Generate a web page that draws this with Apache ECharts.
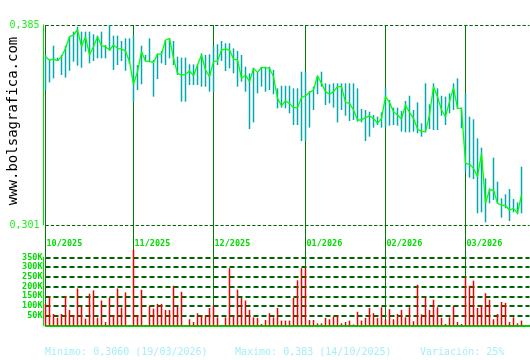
<!DOCTYPE html>
<html>
<head>
<meta charset="utf-8">
<script src="https://cdn.jsdelivr.net/npm/echarts@6/dist/echarts.min.js"></script>
<style>html,body{margin:0;padding:0;background:#fff}#c{width:530px;height:360px}</style>
</head>
<body>
<div id="c"></div>
<script>
// ---- data ----
const monthLabels = ['10/2025','11/2025','12/2025','01/2026','02/2026','03/2026'];
const monthStarts = [0, 22, 42, 65, 85, 105];
const priceTicks = [0.301, 0.385];
const volumeTicksK = [50, 100, 150, 200, 250, 300, 350];

const high = [0.3724,0.3705,0.3763,0.3713,0.3724,0.3763,0.3801,0.3822,0.3843,0.3822,
0.3822,0.3822,0.3811,0.3805,0.3822,0.3766,0.3850,0.3805,0.3805,0.3783,
0.3794,0.3794,0.3808,0.3682,0.3763,0.3724,0.3794,0.3703,0.3730,0.3741,
0.3787,0.3794,0.3783,0.3717,0.3713,0.3713,0.3685,0.3685,0.3685,0.3731,
0.3724,0.3727,0.3763,0.3769,0.3783,0.3773,0.3773,0.3752,0.3741,0.3724,
0.3675,0.3647,0.3671,0.3652,0.3675,0.3675,0.3675,0.3661,0.3584,0.3595,
0.3595,0.3595,0.3584,0.3584,0.3654,0.3654,0.3573,0.3591,0.3637,0.3654,
0.3605,0.3601,0.3605,0.3605,0.3605,0.3605,0.3605,0.3605,0.3584,0.3497,
0.3493,0.3486,0.3472,0.3465,0.3483,0.3584,0.3535,0.3503,0.3503,0.3489,
0.3531,0.3553,0.3493,0.3525,0.3437,0.3605,0.3517,0.3605,0.3584,0.3553,
0.3549,0.3563,0.3605,0.3626,0.3503,0.3563,0.3465,0.3454,0.3374,0.3335,
0.3206,0.3164,0.3293,0.3192,0.3122,0.3139,0.3161,0.3119,0.3105,0.3255];

const low = [0.3577,0.3609,0.3626,0.3699,0.3640,0.3629,0.3658,0.3696,0.3679,0.3671,
0.3738,0.3689,0.3699,0.3710,0.3710,0.3710,0.3742,0.3661,0.3682,0.3699,
0.3658,0.3689,0.3528,0.3577,0.3601,0.3696,0.3694,0.3549,0.3623,0.3689,
0.3682,0.3710,0.3682,0.3640,0.3528,0.3528,0.3598,0.3598,0.3598,0.3591,
0.3591,0.3570,0.3570,0.3682,0.3699,0.3657,0.3668,0.3647,0.3591,0.3612,
0.3570,0.3413,0.3441,0.3563,0.3591,0.3570,0.3577,0.3559,0.3500,0.3503,
0.3500,0.3479,0.3430,0.3430,0.3363,0.3363,0.3419,0.3493,0.3559,0.3591,
0.3514,0.3521,0.3503,0.3441,0.3493,0.3469,0.3447,0.3451,0.3444,0.3441,
0.3363,0.3381,0.3419,0.3430,0.3419,0.3419,0.3427,0.3430,0.3427,0.3402,
0.3399,0.3399,0.3402,0.3395,0.3381,0.3399,0.3413,0.3409,0.3409,0.3469,
0.3430,0.3479,0.3493,0.3497,0.3416,0.3234,0.3209,0.3203,0.3059,0.3063,
0.3021,0.3101,0.3115,0.3098,0.3041,0.3080,0.3027,0.3063,0.3055,0.3059];

const close = [0.3717,0.3702,0.3707,0.3700,0.3717,0.3752,0.3801,0.3808,0.3830,0.3759,
0.3801,0.3724,0.3759,0.3801,0.3763,0.3759,0.3745,0.3766,0.3752,0.3749,
0.3741,0.3696,0.3601,0.3654,0.3738,0.3699,0.3696,0.3693,0.3728,0.3728,
0.3787,0.3794,0.3710,0.3647,0.3640,0.3643,0.3657,0.3637,0.3682,0.3724,
0.3661,0.3633,0.3696,0.3699,0.3745,0.3749,0.3745,0.3707,0.3703,0.3626,
0.3640,0.3612,0.3668,0.3651,0.3671,0.3671,0.3668,0.3633,0.3542,0.3511,
0.3531,0.3521,0.3503,0.3503,0.3545,0.3553,0.3567,0.3577,0.3637,0.3605,
0.3570,0.3559,0.3570,0.3591,0.3591,0.3525,0.3521,0.3493,0.3451,0.3451,
0.3461,0.3468,0.3458,0.3437,0.3458,0.3549,0.3525,0.3486,0.3472,0.3455,
0.3514,0.3483,0.3458,0.3413,0.3402,0.3402,0.3472,0.3591,0.3549,0.3493,
0.3465,0.3528,0.3587,0.3500,0.3500,0.3269,0.3265,0.3248,0.3213,0.3311,
0.3101,0.3157,0.3157,0.3101,0.3094,0.3091,0.3073,0.3080,0.3060,0.3136];

// volume in thousands
const volumeK = [111,149,59,40,59,152,80,53,190,97,
35,163,180,40,128,18,144,54,190,92,
170,3,390,54,183,3,101,87,111,111,
80,80,204,96,173,2,32,18,63,49,
53,90,104,42,2,42,294,49,184,142,
128,80,42,39,8,28,63,42,90,25,
25,25,142,232,294,294,28,28,11,11,
39,32,46,49,11,18,25,5,70,25,
39,90,63,39,94,32,84,32,59,80,
42,94,22,209,57,146,80,132,94,39,
8,42,101,18,8,247,204,230,90,101,
166,132,32,59,121,116,18,42,11,25];

const footerTexts = ['Minimo: 0,3060 (19/03/2026)', 'Maximo: 0,383 (14/10/2025)', 'Variación: 25%'];
const siteText = 'www.bolsagrafica.com';

// ---- build options ----
const nSlots = 122; // trading-day slots on the time axis (120 used + padding)
const categories = [];
for (let i = 0; i < nSlots; i++) {
  const k = monthStarts.indexOf(i);
  categories.push(k >= 0 ? monthLabels[k] : '');
}
const isMonth = (idx) => monthStarts.indexOf(idx) >= 0;
const hlData = high.map((h, i) => [i, h, low[i]]);

const MONO = 'DejaVu Sans Mono';
const dark = '#007a00';

const chart = echarts.init(document.getElementById('c'), null, {renderer: 'canvas'});
chart.setOption({
  animation: false,
  backgroundColor: '#ffffff',
  title: [
    {text: footerTexts[0], left: 45, top: 347, padding: 0, textStyle: {fontFamily: MONO, fontSize: 10, fontWeight: 'normal', color: '#a6eef8'}},
    {text: footerTexts[1], left: 235, top: 347, padding: 0, textStyle: {fontFamily: MONO, fontSize: 10, fontWeight: 'normal', color: '#a6eef8'}},
    {text: footerTexts[2], left: 420, top: 347, padding: 0, textStyle: {fontFamily: MONO, fontSize: 10, fontWeight: 'normal', color: '#a6eef8'}}
  ],
  graphic: [{
    type: 'text', x: 13, y: 121, rotation: Math.PI / 2,
    style: {text: siteText, font: '14px "DejaVu Sans Mono"', fill: '#000', textAlign: 'center', textVerticalAlign: 'middle'}
  }],
  grid: [
    {left: 45.5, right: 0.5, top: 25, height: 200},
    {left: 45.5, right: 0.5, top: 257.3, height: 68.2}
  ],
  xAxis: [
    {
      type: 'category', gridIndex: 0, data: categories, boundaryGap: false,
      axisLine: {show: false},
      axisTick: {show: true, interval: isMonth, length: 32, lineStyle: {color: dark, width: 1}},
      axisLabel: {show: true, interval: (i, v) => v !== '', align: 'left', verticalAlign: 'top', margin: 14.5, padding: [0,0,0,1],
        fontFamily: MONO, fontSize: 8.5, fontWeight: 'bold', color: '#00dd00'},
      splitLine: {show: true, interval: isMonth, lineStyle: {color: dark, width: 1}}
    },
    {
      type: 'category', gridIndex: 1, data: categories, boundaryGap: false,
      axisLine: {show: true, lineStyle: {color: '#00cc00', width: 2}},
      axisTick: {show: false},
      axisLabel: {show: false},
      splitLine: {show: true, interval: isMonth, lineStyle: {color: dark, width: 1}}
    }
  ],
  yAxis: [
    {
      type: 'value', gridIndex: 0, min: priceTicks[0], max: priceTicks[1], interval: priceTicks[1] - priceTicks[0],
      offset: 2,
      axisLine: {show: true, lineStyle: {color: '#00dd00', width: 1}},
      axisTick: {show: false},
      axisLabel: {margin: 4, fontFamily: MONO, fontSize: 10, color: '#22ee22',
        formatter: (v) => v.toFixed(3).replace('.', ',')},
      splitLine: {show: true, lineStyle: {color: '#006400', width: 1, type: [3.3, 2]}}
    },
    {
      type: 'value', gridIndex: 1, min: 0, max: volumeTicksK[volumeTicksK.length - 1], interval: volumeTicksK[1] - volumeTicksK[0],
      offset: 2,
      axisLine: {show: true, lineStyle: {color: '#00dd00', width: 1}},
      axisTick: {show: false},
      axisLabel: {margin: 1, fontFamily: MONO, fontSize: 8.5, fontWeight: 'bold', color: '#00dd00',
        formatter: (v) => v > 0 ? v + 'K' : ''},
      splitLine: {show: true, lineStyle: {color: '#006400', width: 2, type: [5, 3]}}
    }
  ],
  series: [
    {
      type: 'custom', xAxisIndex: 0, yAxisIndex: 0, data: hlData, z: 3,
      renderItem: function (params, api) {
        const p1 = api.coord([api.value(0), api.value(1)]);
        const p2 = api.coord([api.value(0), api.value(2)]);
        return {type: 'rect', shape: {x: p1[0] - 0.75, y: p1[1], width: 1.5, height: p2[1] - p1[1]},
          style: {fill: '#00a8b0'}};
      }
    },
    {
      type: 'line', xAxisIndex: 0, yAxisIndex: 0, data: close, showSymbol: false, z: 4,
      lineStyle: {color: '#00ff00', width: 1.3}
    },
    {
      type: 'bar', xAxisIndex: 1, yAxisIndex: 1, data: volumeK, barWidth: 1.5, clip: false,
      itemStyle: {color: '#ee0000'}
    }
  ]
});
</script>
</body>
</html>
